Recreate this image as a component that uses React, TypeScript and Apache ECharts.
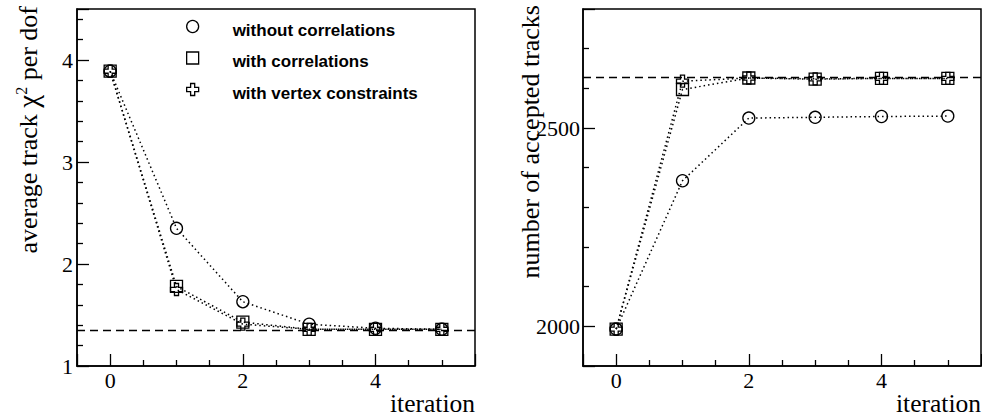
import React, { useEffect, useRef } from "react";
import * as echarts from "echarts";

const iterations = [0, 1, 2, 3, 4, 5];

const seriesNames = ["without correlations", "with correlations", "with vertex constraints"];

// left panel: average track chi2 per dof
const chi2Without = [3.89, 2.35, 1.63, 1.41, 1.37, 1.36];
const chi2With = [3.89, 1.78, 1.43, 1.36, 1.36, 1.36];
const chi2Vertex = [3.89, 1.75, 1.41, 1.36, 1.36, 1.36];
const chi2Reference = 1.353;

// right panel: number of accepted tracks
const tracksWithout = [1993, 2367, 2525, 2527, 2529, 2530];
const tracksWith = [1993, 2597, 2626, 2623, 2625, 2625];
const tracksVertex = [1993, 2618, 2626, 2624, 2625, 2625];
const tracksReference = 2627;

const SERIF = "Liberation Serif, serif";
const SANS = "Liberation Sans, sans-serif";

const PLUS_PATH = "path://M3.3,0 H6.7 V3.3 H10 V6.7 H6.7 V10 H3.3 V6.7 H0 V3.3 H3.3 Z";
const symbols = ["circle", "rect", PLUS_PATH];

const pair = (vals: number[]) => iterations.map((x, i) => [x, vals[i]]);

const tickLine = { color: "#000", width: 1.3 };

function xAxisCfg(gridIndex: number) {
  return {
    type: "value",
    gridIndex,
    min: -0.5,
    max: 5.5,
    splitNumber: 3,
    minInterval: 2,
    maxInterval: 2,
    axisLine: { show: true, onZero: false, lineStyle: { color: "#000", width: 1.5 } },
    axisTick: { show: true, inside: true, length: 12, lineStyle: tickLine },
    minorTick: { show: true, splitNumber: 4, length: 6, lineStyle: tickLine },
    axisLabel: {
      color: "#000",
      fontFamily: SERIF,
      fontSize: 22,
      margin: 3,
      showMinLabel: false,
      showMaxLabel: false,
      formatter: (v: number) => String(v),
    },
    splitLine: { show: false },
    minorSplitLine: { show: false },
  };
}

export default function App() {
  const ref = useRef<HTMLDivElement>(null);

  useEffect(() => {
    if (!ref.current) return;
    const chart = echarts.init(ref.current, undefined, { renderer: "svg" });

    const makeSeries = (name: string, idx: number, vals: number[], gi: number, refVal: number | null) => {
      const s: any = {
        name,
        type: "line",
        xAxisIndex: gi,
        yAxisIndex: gi,
        data: pair(vals),
        symbol: symbols[idx],
        symbolSize: 12,
        showAllSymbol: true,
        itemStyle: { color: "rgba(0,0,0,0)", borderColor: "#000", borderWidth: 1.3 },
        lineStyle: { color: "#000", width: 1.5, type: [1.5, 3] },
        emphasis: { disabled: true },
        z: 3 + idx,
      };
      if (refVal !== null) {
        s.markLine = {
          silent: true,
          symbol: ["none", "none"],
          label: { show: false },
          lineStyle: { color: "#000", width: 1.3, type: [8, 5] },
          data: [{ yAxis: refVal }],
        };
      }
      return s;
    };

    const option: any = {
      animation: false,
      backgroundColor: "#fff",
      textStyle: { fontFamily: SERIF },
      grid: [
        { left: 77, top: 9, width: 398, height: 357, show: true, borderColor: "#000", borderWidth: 1.5, backgroundColor: "transparent" },
        { left: 583, top: 9, width: 398, height: 357, show: true, borderColor: "#000", borderWidth: 1.5, backgroundColor: "transparent" },
      ],
      xAxis: [xAxisCfg(0), xAxisCfg(1)],
      yAxis: [
        {
          type: "value",
          gridIndex: 0,
          min: 1,
          max: 4.5,
          interval: 1,
          axisLine: { show: true, onZero: false, lineStyle: { color: "#000", width: 1.5 } },
          axisTick: { show: true, inside: true, length: 12, lineStyle: tickLine },
          minorTick: { show: true, splitNumber: 5, length: 6, lineStyle: tickLine },
          axisLabel: { color: "#000", fontFamily: SERIF, fontSize: 22, margin: 4, showMaxLabel: false, formatter: (v: number) => String(v) },
          splitLine: { show: false },
        },
        {
          type: "value",
          gridIndex: 1,
          min: 1900,
          max: 2800,
          minInterval: 500,
          maxInterval: 500,
          axisLine: { show: true, onZero: false, lineStyle: { color: "#000", width: 1.5 } },
          axisTick: { show: true, inside: true, length: 12, lineStyle: tickLine },
          minorTick: { show: true, splitNumber: 5, length: 6, lineStyle: tickLine },
          axisLabel: { color: "#000", fontFamily: SERIF, fontSize: 22, margin: 3, showMinLabel: false, showMaxLabel: false, formatter: (v: number) => String(v) },
          splitLine: { show: false },
        },
      ],
      legend: {
        orient: "vertical",
        left: 186,
        top: 18,
        padding: 0,
        itemWidth: 12,
        itemHeight: 12,
        itemGap: 11,
        selectedMode: false,
        formatter: (name: string) => `{g|}{t|${name}}`,
        textStyle: {
          color: "#000",
          lineHeight: 17,
          rich: {
            g: { width: 29 },
            t: { fontFamily: SANS, fontWeight: "bold", fontSize: 17, color: "#000", padding: [7, 0, 0, 0] },
          },
        },
        data: seriesNames.map((n, i) => ({
          name: n,
          icon: symbols[i],
          itemStyle: { color: "rgba(0,0,0,0)", borderColor: "#000", borderWidth: 1.3 },
        })),
      },
      series: [
        makeSeries(seriesNames[0], 0, chi2Without, 0, chi2Reference),
        makeSeries(seriesNames[1], 1, chi2With, 0, null),
        makeSeries(seriesNames[2], 2, chi2Vertex, 0, null),
        makeSeries(seriesNames[0], 0, tracksWithout, 1, tracksReference),
        makeSeries(seriesNames[1], 1, tracksWith, 1, null),
        makeSeries(seriesNames[2], 2, tracksVertex, 1, null),
      ],
      graphic: [
        {
          type: "text",
          x: 28,
          y: 6,
          rotation: Math.PI / 2,
          silent: true,
          style: {
            text: "{n|average track }{c|χ}{s|2}{n| per dof}",
            align: "right",
            verticalAlign: "middle",
            fill: "#000",
            fontFamily: SERIF,
            fontSize: 26,
            rich: {
              n: { fontFamily: SERIF, fontSize: 26, fill: "#000" },
              c: { fontFamily: SERIF, fontSize: 29, fill: "#000" },
              s: { fontFamily: SERIF, fontSize: 16, fill: "#000", verticalAlign: "top" },
            },
          },
        },
        {
          type: "text",
          x: 530,
          y: 5,
          rotation: Math.PI / 2,
          silent: true,
          style: {
            text: "number of accepted tracks",
            align: "right",
            verticalAlign: "middle",
            fill: "#000",
            fontFamily: SERIF,
            fontSize: 26,
          },
        },
        {
          type: "text",
          x: 475,
          y: 403,
          silent: true,
          style: { text: "iteration", align: "right", verticalAlign: "middle", fill: "#000", fontFamily: SERIF, fontSize: 25.5 },
        },
        {
          type: "text",
          x: 981,
          y: 403,
          silent: true,
          style: { text: "iteration", align: "right", verticalAlign: "middle", fill: "#000", fontFamily: SERIF, fontSize: 25.5 },
        },
      ],
    };

    chart.setOption(option);
    return () => chart.dispose();
  }, []);

  return (
    <div
      ref={ref}
      style={{ position: "absolute", left: 0, top: 0, width: 982, height: 417 }}
    />
  );
}
